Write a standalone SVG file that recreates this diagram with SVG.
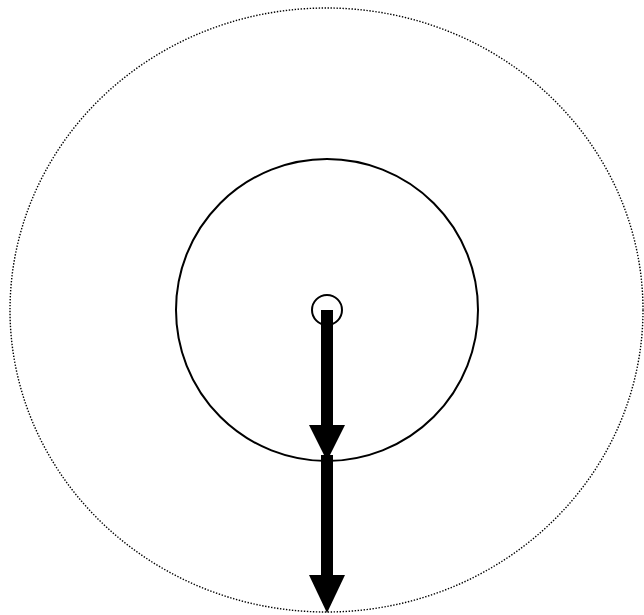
<svg xmlns="http://www.w3.org/2000/svg" width="644" height="615" viewBox="0 0 644 615">
<style>
.outer{fill:none;stroke:#000;stroke-width:1.4;stroke-dasharray:1.4 1.6}
.ring{fill:none;stroke:#000;stroke-width:2}
.shaft{stroke:#000;stroke-width:12;fill:none}
.head{fill:#000}
</style>
<rect width="644" height="615" fill="#fff"/>
<g id="outer-circle"><ellipse class="outer" cx="326.5" cy="310" rx="316.5" ry="302"/></g>
<g id="inner-circle"><circle class="ring" cx="327" cy="310" r="151"/></g>
<g id="center-circle"><circle class="ring" cx="327" cy="310" r="15"/></g>
<g id="connectors">
<line class="shaft" x1="327" y1="310" x2="327" y2="430"/>
<polygon class="head" points="309,425 345,425 327,461"/>
<line class="shaft" x1="327" y1="455" x2="327" y2="580"/>
<polygon class="head" points="309,575 345,575 327,613"/>
</g>
</svg>
